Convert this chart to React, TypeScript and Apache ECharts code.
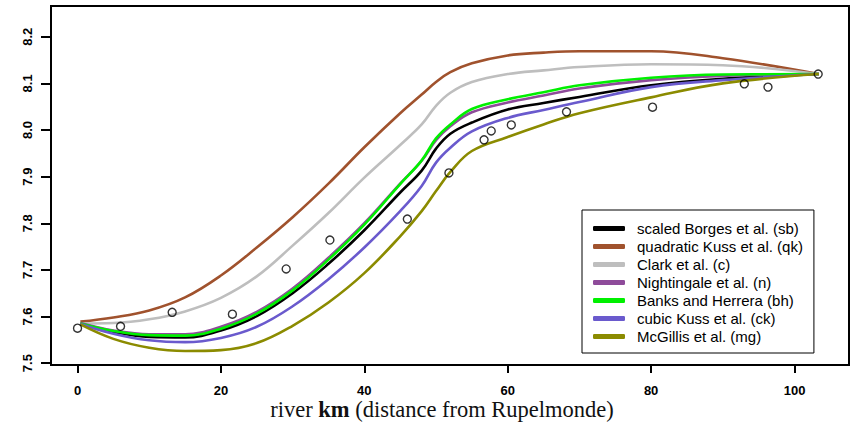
import React, { useEffect, useRef } from "react";
import * as echarts from "echarts";

// river km where the model curves are evaluated
const curveKm = [0.4, 5, 10, 15, 20, 25, 30, 35, 40, 45, 48, 50, 52, 55, 60, 65, 70, 80, 90, 103.4];

const sbValues = [7.585, 7.567, 7.556, 7.555, 7.570, 7.601, 7.650, 7.713, 7.785, 7.866, 7.913, 7.960, 7.992, 8.016, 8.044, 8.058, 8.071, 8.096, 8.110, 8.12];
const qkValues = [7.589, 7.598, 7.613, 7.641, 7.688, 7.748, 7.813, 7.885, 7.963, 8.036, 8.076, 8.103, 8.124, 8.143, 8.160, 8.166, 8.169, 8.169, 8.154, 8.12];
const cValues = [7.585, 7.586, 7.594, 7.611, 7.640, 7.686, 7.752, 7.822, 7.898, 7.968, 8.012, 8.052, 8.080, 8.103, 8.120, 8.128, 8.135, 8.141, 8.139, 8.12];
const nValues = [7.586, 7.570, 7.562, 7.562, 7.578, 7.610, 7.660, 7.726, 7.800, 7.885, 7.934, 7.978, 8.008, 8.038, 8.059, 8.074, 8.089, 8.107, 8.116, 8.12];
const bhValues = [7.585, 7.569, 7.560, 7.559, 7.574, 7.606, 7.656, 7.722, 7.797, 7.884, 7.935, 7.982, 8.012, 8.045, 8.066, 8.081, 8.096, 8.112, 8.119, 8.12];
const ckValues = [7.584, 7.563, 7.549, 7.545, 7.554, 7.578, 7.622, 7.680, 7.748, 7.826, 7.880, 7.930, 7.962, 7.997, 8.026, 8.043, 8.060, 8.092, 8.107, 8.12];
const mgValues = [7.583, 7.552, 7.533, 7.526, 7.528, 7.543, 7.580, 7.630, 7.693, 7.772, 7.826, 7.869, 7.910, 7.955, 7.985, 8.012, 8.036, 8.070, 8.100, 8.12];

// observed pH
const obsKm = [0, 6.0, 13.2, 21.6, 29.1, 35.2, 46.0, 51.8, 56.7, 57.7, 60.5, 68.2, 80.2, 93.0, 96.3, 103.3];
const obsValues = [7.575, 7.579, 7.609, 7.605, 7.702, 7.764, 7.809, 7.908, 7.979, 7.998, 8.011, 8.039, 8.049, 8.099, 8.092, 8.120];

const seriesNames = [
  "scaled Borges et al. (sb)",
  "quadratic Kuss et al. (qk)",
  "Clark et al. (c)",
  "Nightingale et al. (n)",
  "Banks and Herrera (bh)",
  "cubic Kuss et al. (ck)",
  "McGillis et al. (mg)",
];
const seriesColors = ["#000000", "#A0522D", "#BEBEBE", "#8E4B9A", "#00F000", "#6A5ACD", "#8B8B00"];
const seriesValues = [sbValues, qkValues, cValues, nValues, bhValues, ckValues, mgValues];

const xTicks = [0, 20, 40, 60, 80, 100];
const yTicks = [7.5, 7.6, 7.7, 7.8, 7.9, 8.0, 8.1, 8.2];

export default function App() {
  const ref = useRef<HTMLDivElement>(null);
  useEffect(() => {
    if (!ref.current) return;
    const chart = echarts.init(ref.current, null, { renderer: "svg" });
    const lines = seriesNames.map((name, i) => ({
      name,
      type: "line",
      data: curveKm.map((k, j) => [k, seriesValues[i][j]]),
      smooth: 0.4,
      showSymbol: false,
      symbol: "none",
      lineStyle: { color: seriesColors[i], width: 2.6 },
      itemStyle: { color: seriesColors[i] },
      z: 2 + i * 0.01,
    }));
    chart.setOption({
      animation: false,
      grid: {
        left: 51,
        right: 7,
        top: 6,
        bottom: 59,
      },
      xAxis: {
        type: "value",
        min: -3.7,
        max: 107.6,
        axisLine: { show: false, onZero: false },
        splitLine: { show: false },
        axisTick: { show: true, inside: false, length: 8, lineStyle: { color: "#000", width: 2 }, customValues: xTicks },
        axisLabel: {
          customValues: xTicks,
          margin: 19,
          fontFamily: "Liberation Sans",
          fontWeight: "bold",
          fontSize: 13,
          color: "#000",
        },
      },
      yAxis: {
        type: "value",
        min: 7.496,
        max: 8.266,
        axisLine: { show: false, onZero: false },
        splitLine: { show: false },
        axisTick: { show: true, inside: false, length: 10, lineStyle: { color: "#000", width: 2 }, customValues: yTicks },
        axisLabel: {
          customValues: yTicks,
          rotate: 90,
          margin: 17,
          formatter: (v: number) => v.toFixed(1),
          fontFamily: "Liberation Sans",
          fontWeight: "bold",
          fontSize: 13,
          color: "#000",
        },
      },
      legend: {
        orient: "vertical",
        left: 582,
        top: 210,
        data: seriesNames,
        icon: "roundRect",
        itemWidth: 32,
        itemHeight: 5,
        itemGap: 3,
        borderColor: "#000",
        borderWidth: 1,
        borderRadius: 0,
        padding: [11, 11, 9, 11],
        backgroundColor: "#fff",
        textStyle: {
          fontFamily: "Liberation Sans",
          fontSize: 15,
          lineHeight: 14,
          color: "#000",
          padding: [0, 0, 0, 7],
        },
        selectedMode: false,
      },
      graphic: [
        {
          type: "rect",
          shape: { x: 51, y: 6, width: 798, height: 359 },
          style: { fill: "none", stroke: "#000", lineWidth: 2 },
          silent: true,
          z: 10,
        },
        {
          type: "text",
          x: 442,
          y: 409,
          style: {
            text: "{a|river }{b|km}{a| (distance from Rupelmonde)}",
            align: "center",
            verticalAlign: "middle",
            rich: {
              a: { fontFamily: "Liberation Serif", fontSize: 22.5, fill: "#111" },
              b: { fontFamily: "Liberation Serif", fontSize: 22.5, fontWeight: "bold", fill: "#111" },
            },
          },
        },
      ],
      series: [
        ...lines,
        {
          name: "observed",
          type: "scatter",
          data: obsKm.map((k, i) => [k, obsValues[i]]),
          symbol: "circle",
          symbolSize: 8,
          itemStyle: { color: "rgba(0,0,0,0)", borderColor: "#000", borderWidth: 1.4 },
          z: 5,
        },
      ],
    });
    return () => chart.dispose();
  }, []);
  return <div ref={ref} style={{ width: 856, height: 424, position: "absolute", left: 0, top: 0 }} />;
}
